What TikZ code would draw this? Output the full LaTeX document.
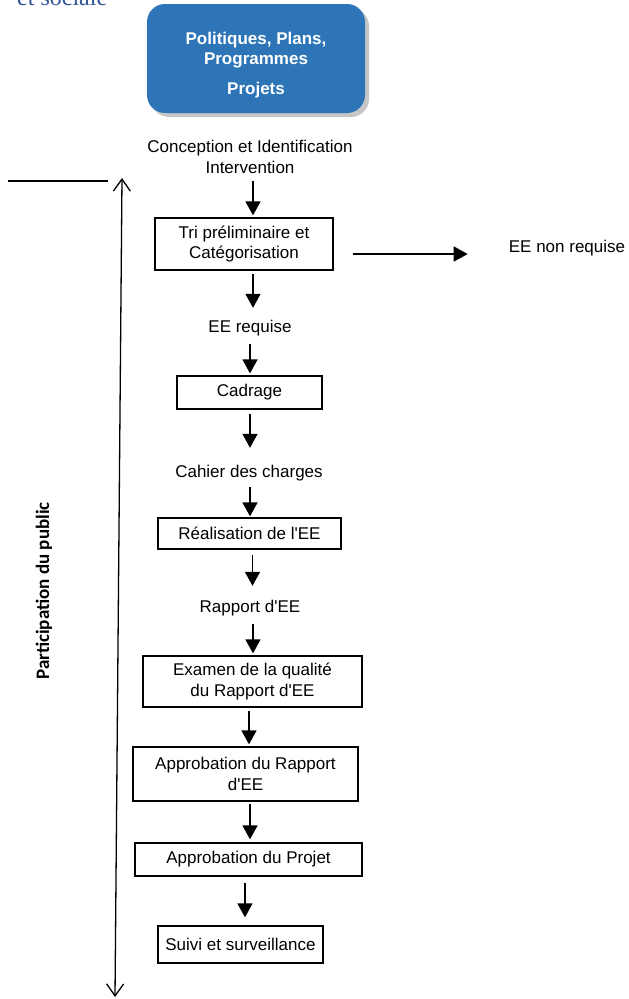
\documentclass[tikz,border=0pt]{standalone}
\usepackage{fontspec}
\setmainfont{Liberation Sans}
\newfontfamily\serifbleu{Liberation Serif}
\newfontfamily\calibri{Carlito}
\usetikzlibrary{arrows.meta,shadows}
\definecolor{bleuboite}{RGB}{46,117,183}
\definecolor{bleutitre}{RGB}{46,84,150}

\begin{document}
\begin{tikzpicture}[x=1pt, y=-1pt,
	every node/.style={font=\fontsize{17}{20.5}\selectfont},
	etape/.style={draw, line width=1.3pt, align=center, inner sep=0pt},
	libelle/.style={inner sep=0pt, text height=12.5pt, text depth=3.5pt},
	fleche/.style={line width=1.5pt, -{Triangle[length=14pt,width=15pt]}}]
	\useasboundingbox (0,0) rectangle (629,999);
	% titre coupe en haut
	\node[anchor=base west, inner sep=0pt, text=bleutitre, font=\serifbleu\fontsize{24}{28}\selectfont] (titre) at (17,5) {et sociale};
	\node[fill=bleuboite, rounded corners=18pt, minimum width=218pt, minimum height=109pt, text=white, align=center, font=\bfseries\fontsize{17}{20}\selectfont, drop shadow={shadow xshift=4pt, shadow yshift=-4pt, opacity=0.45}] (ppp) at (256,58.5) {\rule{0pt}{25pt}Politiques, Plans,\\Programmes\\[10pt]Projets};
	\node[align=center, inner sep=0pt] (concept) at (250,157) {Conception et Identification\\Intervention};
	\node[etape, minimum width=178pt, minimum height=52pt] (tri) at (244,244) {Tri préliminaire et\\Catégorisation};
	\node[libelle] (nonreq) at (567,248) {EE non requise};
	\node[libelle] (eereq) at (250,328) {EE requise};
	\node[etape, minimum width=145pt, minimum height=33pt] (cadrage) at (249.5,392.5) {Cadrage};
	\node[libelle] (cahier) at (249,473) {Cahier des charges};
	\node[etape, minimum width=183pt, minimum height=31pt] (realis) at (249.5,533.5) {Réalisation de l\textquotesingle EE};
	\node[libelle] (rapport) at (250,608) {Rapport d\textquotesingle EE};
	\node[etape, minimum width=219pt, minimum height=51pt] (examen) at (252.5,681.5) {Examen de la qualité\\du Rapport d\textquotesingle EE};
	\node[etape, minimum width=225pt, minimum height=54pt] (approR) at (245.5,774) {Approbation du Rapport\\d\textquotesingle EE};
	\node[etape, minimum width=227pt, minimum height=33pt] (approP) at (248.5,859.5) {Approbation du Projet};
	\node[etape, minimum width=165pt, minimum height=37pt] (suivi) at (240.5,944.5) {Suivi et surveillance};
	\node[rotate=90, font=\calibri\bfseries\fontsize{19}{22}\selectfont] (public) at (44,591) {Participation du public};

	\draw[fleche, shorten <=7pt, shorten >=2pt] ([xshift=3pt]concept.south) -- ([xshift=3pt]concept.south |- tri.north);
	\draw[fleche, shorten <=19pt, shorten >=41pt] ([yshift=-10pt]tri.east) -- ([yshift=-10pt]tri.east -| nonreq.west);
	\draw[fleche, shorten <=3pt, shorten >=12pt] ([xshift=9pt]tri.south) -- ([xshift=9pt]tri.south |- eereq.north);
	\draw[fleche, shorten <=8pt, shorten >=2pt] (eereq.south) -- (eereq.south |- cadrage.north);
	\draw[fleche, shorten <=4pt, shorten >=17pt] ([xshift=0.5pt]cadrage.south) -- ([xshift=0.5pt]cadrage.south |- cahier.north);
	\draw[fleche, shorten <=6pt, shorten >=1pt] ([xshift=1pt]cahier.south) -- ([xshift=1pt]cahier.south |- realis.north);
	\draw[fleche, shorten <=5pt, shorten >=14pt] ([xshift=3pt]realis.south) -- ([xshift=3pt]realis.south |- rapport.north);
	\draw[fleche, shorten <=8pt, shorten >=2pt] ([xshift=3pt]rapport.south) -- ([xshift=3pt]rapport.south |- examen.north);
	\draw[fleche, shorten <=3pt, shorten >=2pt] ([xshift=-3.5pt]examen.south) -- ([xshift=-3.5pt]examen.south |- approR.north);
	\draw[fleche, shorten <=2pt, shorten >=3pt] ([xshift=4.5pt]approR.south) -- ([xshift=4.5pt]approR.south |- approP.north);
	\draw[fleche, shorten <=6pt, shorten >=8pt] ([xshift=-3.5pt]approP.south) -- ([xshift=-3.5pt]approP.south |- suivi.north);

	\coordinate (haut) at (122,178);
	\coordinate (bas) at (115,997);
	\coordinate (trait) at (8,181);
	\draw[line width=1.3pt, {Straight Barb[length=12pt,width=17pt]}-{Straight Barb[length=12pt,width=17pt]}] (haut) -- (bas);
	\draw[line width=1.3pt] (trait) -- (108,181);
\end{tikzpicture}
\end{document}
